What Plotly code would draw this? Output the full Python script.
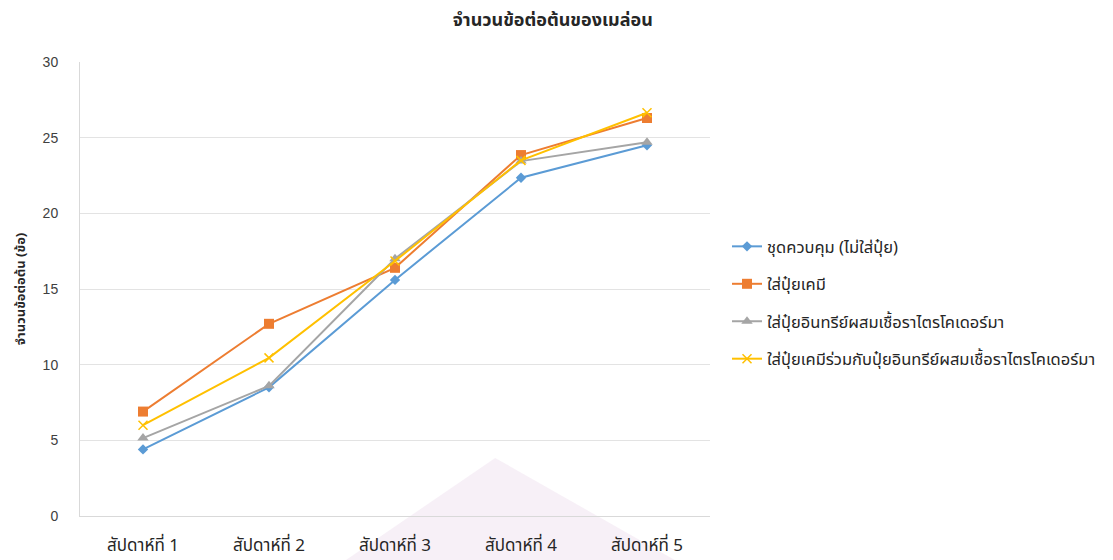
import plotly.graph_objects as go

categories = ["สัปดาห์ที่ 1", "สัปดาห์ที่ 2", "สัปดาห์ที่ 3", "สัปดาห์ที่ 4", "สัปดาห์ที่ 5"]
series_names = [
    "ชุดควบคุม (ไม่ใส่ปุ๋ย)",
    "ใส่ปุ๋ยเคมี",
    "ใส่ปุ๋ยอินทรีย์ผสมเชื้อราไตรโคเดอร์มา",
    "ใส่ปุ๋ยเคมีร่วมกับปุ๋ยอินทรีย์ผสมเชื้อราไตรโคเดอร์มา",
]
control = [4.4, 8.5, 15.6, 22.35, 24.5]
chemical = [6.9, 12.7, 16.4, 23.85, 26.3]
organic = [5.15, 8.6, 17.0, 23.45, 24.7]
combined = [6.0, 10.45, 16.85, 23.5, 26.65]
y_ticks = [0, 5, 10, 15, 20, 25, 30]

values = [control, chemical, organic, combined]
colors = ["#5B9BD5", "#ED7D31", "#A5A5A5", "#FFC000"]
symbols = ["diamond", "square", "triangle-up", "x-thin-open"]
sizes = [8, 10, 10, 9]

fig = go.Figure()
for i, (name, vals, col, sym, sz) in enumerate(zip(series_names, values, colors, symbols, sizes)):
    marker = dict(symbol=sym, size=sz, color=col)
    if sym == "x-thin-open":
        marker["line"] = dict(color=col, width=1.5)
    fig.add_trace(go.Scatter(
        x=categories, y=vals, name=name, mode="lines+markers",
        line=dict(color=col, width=2), marker=marker, legendgroup=f"g{i}",
    ))

thai_font = "Noto Sans Thai, Loma, Garuda, Tlwg Typo, sans-serif"

# faint background watermark (scanned-page artefact)
fig.add_shape(type="path", xref="paper", yref="paper", layer="below",
              path="M 0.419 -0.1 L 0.659 0.128 L 0.948 -0.1 Z",
              fillcolor="rgba(190,140,195,0.13)", line=dict(width=0))

fig.update_layout(
    width=1105, height=552,
    paper_bgcolor="white", plot_bgcolor="white",
    margin=dict(l=72, r=400, t=54, b=44),
    title=dict(text="<b>จำนวนข้อต่อต้นของเมล่อน</b>", x=0.493, xanchor="center", y=0.978, yanchor="middle",
               font=dict(size=18, color="#262626", family=thai_font)),
    legend=dict(x=1.027, xanchor="left", y=0.47, yanchor="middle",
                font=dict(size=16.5, color="#262626", family=thai_font),
                tracegroupgap=13, bgcolor="rgba(0,0,0,0)"),
    xaxis=dict(range=[-0.5, 4.5], showgrid=False, showline=True, linecolor="#d9d9d9", linewidth=1,
               ticks="", ticklabelstandoff=14, automargin=False,
               tickfont=dict(size=17, color="#262626", family=thai_font), fixedrange=True),
    yaxis=dict(range=[0, 30], tickvals=y_ticks, showgrid=True, gridcolor="#e3e3e3", gridwidth=1,
               showline=True, linecolor="#d9d9d9", zeroline=False, ticks="", ticklabelstandoff=18,
               automargin=False,
               tickfont=dict(size=14, color="#404040", family="Liberation Sans, Arial"),
               title=dict(text="<b>จำนวนข้อต่อต้น (ข้อ)</b>", standoff=14,
                          font=dict(size=13, color="#262626", family=thai_font))),
)

fig.write_html("out.html")
